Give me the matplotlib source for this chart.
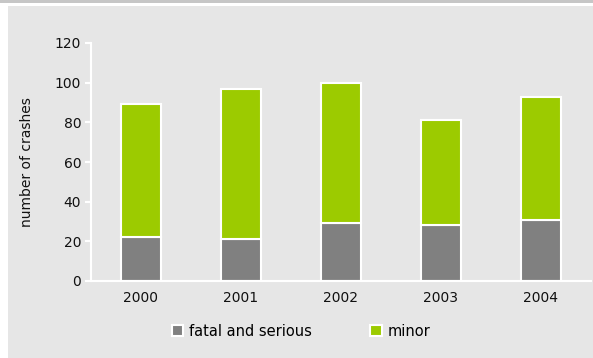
import matplotlib.pyplot as plt
import numpy as np
from matplotlib.patches import Rectangle

years = ['2000', '2001', '2002', '2003', '2004']
fatal_serious = [22, 21, 29, 28, 31]
minor = [67, 76, 71, 53, 62]
yticks = [0, 20, 40, 60, 80, 100, 120]

grey = '#808080'
green = '#9ccb00'
panel = '#e6e6e6'

plt.rcParams['font.family'] = 'DejaVu Sans'
fig = plt.figure(figsize=(5.93, 3.58), dpi=100)
fig.patch.set_facecolor('white')

# panel background + top rule
fig.patches.append(Rectangle((8 / 593, 0), 1 - 8 / 593, 1 - 6 / 358,
                             transform=fig.transFigure, facecolor=panel,
                             edgecolor='none', zorder=-2))
fig.patches.append(Rectangle((0, 1 - 3 / 358), 1, 3 / 358,
                             transform=fig.transFigure, facecolor='#c6c6c6',
                             edgecolor='none', zorder=-2))

ax = fig.add_axes([91 / 593, 77 / 358, 500 / 593, 238 / 358])
ax.set_facecolor('none')

x = np.arange(len(years))
ax.bar(x, fatal_serious, width=0.4, color=grey, edgecolor='white',
       linewidth=1.5, label='fatal and serious')
ax.bar(x, minor, width=0.4, bottom=fatal_serious, color=green,
       edgecolor='white', linewidth=1.5, label='minor')

ax.set_xlim(-0.5, 4.5)
ax.set_ylim(0, 120)
ax.set_yticks(yticks)
ax.set_xticks(x)
ax.set_xticklabels(years)

for s in ['top', 'right']:
    ax.spines[s].set_visible(False)
for s in ['left', 'bottom']:
    ax.spines[s].set_color('white')
    ax.spines[s].set_linewidth(1.5)

ax.tick_params(axis='y', colors='white', length=4, width=1.5,
               labelcolor='#111111', labelsize=10, pad=3)
ax.tick_params(axis='x', length=0, labelcolor='#111111', labelsize=10, pad=7)

ax.set_ylabel('number of crashes', fontsize=10, color='#111111', labelpad=15)

fig.legend(loc='center', bbox_to_anchor=(301 / 593, 1 - 331 / 358), ncol=2,
           frameon=False, fontsize=10.5, handlelength=0.8, handleheight=0.8,
           handletextpad=0.4, columnspacing=4.0)

fig.savefig('out.png', dpi=100, facecolor=fig.get_facecolor())
